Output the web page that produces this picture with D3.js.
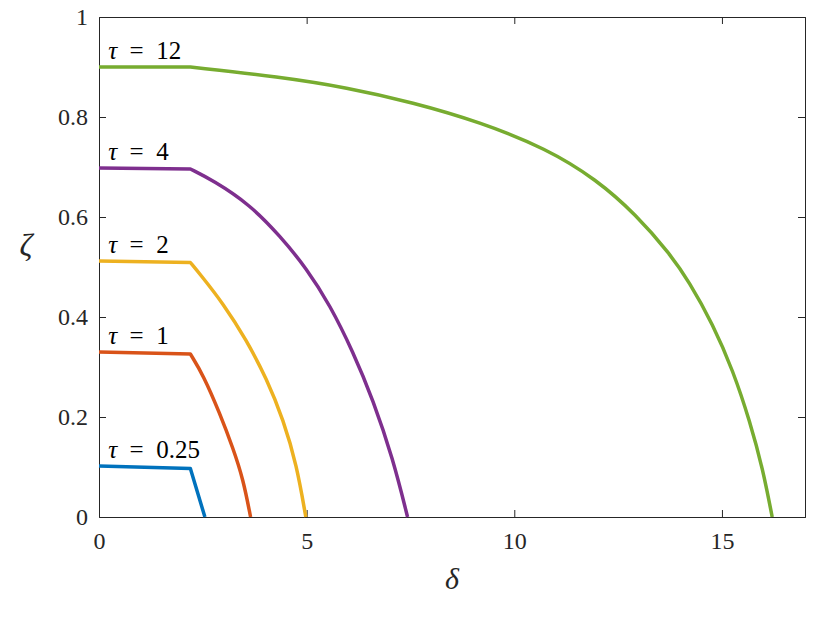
<!DOCTYPE html>
<html>
<head>
<meta charset="utf-8">
<script src="https://cdn.jsdelivr.net/npm/d3@7"></script>
<style>
    body { margin: 0; background: #ffffff; }
</style>
</head>
<body>
<div id="chart"></div>
<script>
// zeta vs delta for several tau values

var xTicks = [0, 5, 10, 15];
var yTicks = [0, 0.2, 0.4, 0.6, 0.8, 1];
var yTickLabels = ["0", "0.2", "0.4", "0.6", "0.8", "1"];

var seriesNames = ["0.25", "1", "2", "4", "12"];
var seriesColors = ["#0072BD", "#D95319", "#EDB120", "#7E2F8E", "#77AC30"];

// [delta, zeta] pairs
var tau025 = [[0, 0.102], [2.2, 0.097], [2.55, 0]];
var tau1 = [[0, 0.330], [2.2, 0.326], [2.51, 0.284], [2.91, 0.207], [3.23, 0.137],
    [3.47, 0.076], [3.65, 0]];
var tau2 = [[0, 0.512], [2.2, 0.509], [2.43, 0.486], [2.99, 0.427], [3.55, 0.354],
    [4.04, 0.276], [4.44, 0.194], [4.76, 0.104], [4.98, 0]];
var tau4 = [[0, 0.698], [2.2, 0.696], [2.75, 0.673], [3.63, 0.625], [4.36, 0.562],
    [5.0, 0.497], [5.56, 0.424], [6.12, 0.330], [6.60, 0.234], [7.08, 0.116], [7.43, 0]];
var tau12 = [[0, 0.900], [2.2, 0.900], [4.36, 0.880], [5.96, 0.859], [7.56, 0.829],
    [9.17, 0.790], [10.77, 0.737], [11.98, 0.675], [12.94, 0.604], [13.74, 0.527],
    [14.2, 0.472], [14.78, 0.386], [15.27, 0.292], [15.67, 0.192], [15.99, 0.094], [16.21, 0]];

var seriesData = [tau025, tau1, tau2, tau4, tau12];

(function() {

    var width = 830;
    var height = 623;
    var left = 99, right = 805, top = 17, bottom = 517;
    var serif = "'Liberation Serif', 'DejaVu Serif', serif";

    var svg = d3.select("#chart")
        .append("svg")
        .attr("width", width)
        .attr("height", height);

    svg.append("rect")
        .attr("width", width)
        .attr("height", height)
        .attr("fill", "#ffffff");

    var x = d3.scaleLinear().domain([0, 17]).range([left, right]);
    var y = d3.scaleLinear().domain([0, 1]).range([bottom, top]);

    var axisColor = "#262626";
    var tickLen = 7;

    // Axes with inward ticks on all four sides
    var bottomAxis = svg.append("g")
        .attr("transform", "translate(0," + bottom + ")")
        .call(d3.axisBottom(x).tickValues(xTicks).tickSize(-tickLen).tickPadding(15)
            .tickFormat(d3.format("d")));

    var topAxis = svg.append("g")
        .attr("transform", "translate(0," + top + ")")
        .call(d3.axisTop(x).tickValues(xTicks).tickSize(-tickLen).tickFormat(""));

    var leftAxis = svg.append("g")
        .attr("transform", "translate(" + left + ",0)")
        .call(d3.axisLeft(y).tickValues(yTicks).tickSize(-tickLen).tickPadding(11)
            .tickFormat(function(d, i) { return yTickLabels[i]; }));

    var rightAxis = svg.append("g")
        .attr("transform", "translate(" + right + ",0)")
        .call(d3.axisRight(y).tickValues(yTicks).tickSize(-tickLen).tickFormat(""));

    [bottomAxis, topAxis, leftAxis, rightAxis].forEach(function(g) {
        g.attr("font-family", serif);
        g.select(".domain").attr("stroke", axisColor).attr("stroke-width", 1);
        g.selectAll(".tick line").attr("stroke", axisColor).attr("stroke-width", 1);
        g.selectAll(".tick text")
            .attr("fill", "#262626")
            .attr("font-size", "24px");
    });

    // Hide tick marks that sit on the box corners
    bottomAxis.selectAll(".tick").filter(function(d) { return d === 0; }).select("line").remove();
    topAxis.selectAll(".tick").filter(function(d) { return d === 0; }).select("line").remove();
    leftAxis.selectAll(".tick").filter(function(d) { return d === 0 || d === 1; }).select("line").remove();
    rightAxis.selectAll(".tick").filter(function(d) { return d === 0 || d === 1; }).select("line").remove();

    // Curves: flat part straight, the falling part smooth
    var curveLine = d3.line()
        .x(function(d) { return x(d[0]); })
        .y(function(d) { return y(d[1]); })
        .curve(d3.curveBasis);

    function pathFor(pts) {
        var first = "M" + x(pts[0][0]) + "," + y(pts[0][1]);
        var rest = curveLine(pts.slice(1));
        return first + "L" + rest.slice(1);
    }

    seriesData.forEach(function(pts, i) {
        svg.append("path")
            .attr("d", pathFor(pts))
            .attr("fill", "none")
            .attr("stroke", seriesColors[i])
            .attr("stroke-width", 3.5)
            .attr("stroke-linejoin", "round");

        var label = svg.append("text")
            .attr("x", x(0.22))
            .attr("y", y(pts[0][1] + 0.017))
            .attr("fill", "#000000")
            .attr("font-family", serif)
            .attr("font-size", "25px");

        label.append("tspan")
            .attr("font-style", "italic")
            .text("τ");
        label.append("tspan")
            .text("\u2002=\u2002" + seriesNames[i]);
    });

    // Axis titles
    svg.append("text")
        .attr("x", 452)
        .attr("y", 589)
        .attr("text-anchor", "middle")
        .attr("font-family", serif)
        .attr("font-size", "30px")
        .attr("font-style", "italic")
        .attr("fill", "#262626")
        .text("δ");

    svg.append("text")
        .attr("x", 26)
        .attr("y", 256)
        .attr("text-anchor", "middle")
        .attr("font-family", serif)
        .attr("font-size", "32px")
        .attr("font-style", "italic")
        .attr("fill", "#262626")
        .text("ζ");

})();
</script>
</body>
</html>
